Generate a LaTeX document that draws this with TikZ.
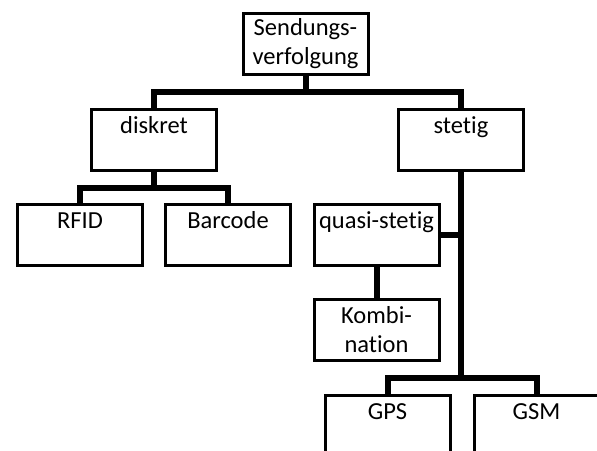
\documentclass[tikz,border=0pt]{standalone}
\usepackage{fontspec}
\setmainfont{Carlito}[Ligatures={NoCommon,NoRequired,NoContextual}]
\usetikzlibrary{positioning,calc}

\begin{document}
\begin{tikzpicture}[x=1pt,y=-1pt,node distance=31pt,
  box/.style={draw,line width=3pt,minimum width=125pt,minimum height=61pt,
    inner sep=4pt,font=\fontsize{24.5}{29}\selectfont},
  onetop/.style={text height=19.5pt,text depth=33.5pt},
  twolines/.style={align=center},
  link/.style={line width=6pt,line join=miter}]

\useasboundingbox (0,0) rectangle (597,450);
\clip (0,0) rectangle (597,450);

\node[box,twolines] (sendung) at (305.5,44) {Sendungs-\\verfolgung};
\node[box,onetop] (diskret) [below left=32pt and 87.5pt of sendung.south] {diskret};
\node[box,onetop] (stetig) [right=179pt of diskret] {stetig};
\node[box,onetop] (rfid) [below left=31pt and 10pt of diskret.south] {RFID};
\node[box,onetop] (barcode) [below right=31pt and 10pt of diskret.south] {Barcode};
\node[box,onetop] (quasi) [below left=31pt and 20.5pt of stetig.south] {quasi-stetig};
\node[box,twolines] (kombi) [below=of quasi] {Kombi-\\nation};
\node[box,onetop] (gps) [below right=32pt and 11pt of kombi.south west] {GPS};
\node[box,onetop] (gsm) [right=21pt of gps] {GSM};

\draw[link] (sendung.south) -- ++(0,16) coordinate (j_1);
\draw[link] (diskret.north) |- (j_1) -| (stetig.north);
\draw[link] (diskret.south) -- ++(0,15.5) coordinate (j_2);
\draw[link] (rfid.north) |- (j_2) -| (barcode.north);
\coordinate (j_3) at ($(kombi.south)!.5!(gps.north)$);
\draw[link] (stetig.south) -- (j_3 -| stetig.south);
\draw[link] (gps.north) |- (j_3 -| stetig.south) -| (gsm.north);
\draw[link] (quasi.east) -- (quasi.east -| stetig.south);
\draw[link] (quasi.south) -- (kombi.north);

\end{tikzpicture}
\end{document}
